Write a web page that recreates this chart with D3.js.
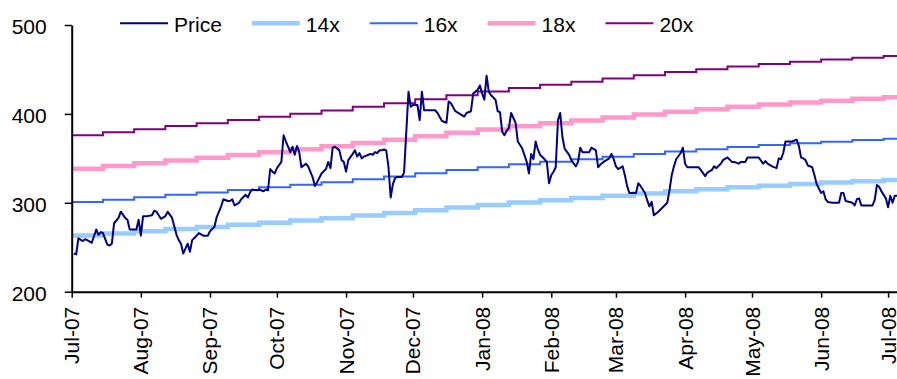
<!DOCTYPE html>
<html>
<head>
<meta charset="utf-8">
<script src="https://cdn.jsdelivr.net/npm/d3@7"></script>
<style>
  body { margin: 0; background: #fff; }
  svg { display: block; font-family: Arial, "Liberation Sans", sans-serif; }
</style>
</head>
<body>
<svg id="chart" width="897" height="379"></svg>
<script>
/* ============================
      Data
   ============================ */
// Daily share price, one line per month
const priceDates = [
    "2007-07-02","2007-07-03","2007-07-04","2007-07-06","2007-07-07","2007-07-08","2007-07-10","2007-07-12","2007-07-13","2007-07-14","2007-07-15","2007-07-17","2007-07-18","2007-07-19","2007-07-20","2007-07-22","2007-07-23","2007-07-25","2007-07-26","2007-07-27","2007-07-29","2007-07-30","2007-07-31",
    "2007-08-01","2007-08-02","2007-08-04","2007-08-06","2007-08-07","2007-08-08","2007-08-10","2007-08-12","2007-08-13","2007-08-15","2007-08-17","2007-08-18","2007-08-19","2007-08-20","2007-08-22","2007-08-23","2007-08-24","2007-08-26","2007-08-27","2007-08-29","2007-08-31",
    "2007-09-01","2007-09-03","2007-09-04","2007-09-06","2007-09-07","2007-09-09","2007-09-10","2007-09-11","2007-09-12","2007-09-14","2007-09-15","2007-09-17","2007-09-18","2007-09-19","2007-09-20","2007-09-22","2007-09-23","2007-09-25","2007-09-26","2007-09-27","2007-09-28","2007-09-29","2007-09-30",
    "2007-10-01","2007-10-03","2007-10-04","2007-10-05","2007-10-07","2007-10-08","2007-10-09","2007-10-10","2007-10-11","2007-10-12","2007-10-14","2007-10-15","2007-10-17","2007-10-18","2007-10-19","2007-10-21","2007-10-23","2007-10-24","2007-10-25","2007-10-26","2007-10-27","2007-10-29","2007-10-30","2007-10-31",
    "2007-11-01","2007-11-02","2007-11-04","2007-11-05","2007-11-06","2007-11-07","2007-11-08","2007-11-09","2007-11-11","2007-11-12","2007-11-13","2007-11-14","2007-11-15","2007-11-16","2007-11-17","2007-11-18","2007-11-19","2007-11-20","2007-11-21","2007-11-22","2007-11-23","2007-11-24","2007-11-26","2007-11-27","2007-11-29","2007-11-30",
    "2007-12-01","2007-12-03","2007-12-04","2007-12-05","2007-12-06","2007-12-07","2007-12-09","2007-12-11","2007-12-12","2007-12-14","2007-12-16","2007-12-17","2007-12-18","2007-12-20","2007-12-22","2007-12-24","2007-12-25","2007-12-27","2007-12-28","2007-12-30","2007-12-31",
    "2008-01-01","2008-01-02","2008-01-03","2008-01-04","2008-01-05","2008-01-07","2008-01-08","2008-01-09","2008-01-10","2008-01-11","2008-01-12","2008-01-13","2008-01-14","2008-01-16","2008-01-17","2008-01-18","2008-01-19","2008-01-21","2008-01-22","2008-01-23","2008-01-24","2008-01-25","2008-01-26","2008-01-27","2008-01-29","2008-01-30","2008-01-31",
    "2008-02-01","2008-02-02","2008-02-03","2008-02-04","2008-02-05","2008-02-06","2008-02-07","2008-02-09","2008-02-10","2008-02-12","2008-02-13","2008-02-14","2008-02-15","2008-02-16","2008-02-18","2008-02-19","2008-02-21","2008-02-22","2008-02-23","2008-02-25","2008-02-27","2008-02-28","2008-02-29",
    "2008-03-01","2008-03-02","2008-03-04","2008-03-05","2008-03-06","2008-03-07","2008-03-08","2008-03-09","2008-03-10","2008-03-11","2008-03-12","2008-03-14","2008-03-15","2008-03-16","2008-03-17","2008-03-18","2008-03-20","2008-03-22","2008-03-24","2008-03-25","2008-03-26","2008-03-27","2008-03-28","2008-03-30","2008-03-31",
    "2008-04-01","2008-04-02","2008-04-03","2008-04-05","2008-04-07","2008-04-08","2008-04-10","2008-04-11","2008-04-13","2008-04-14","2008-04-15","2008-04-17","2008-04-18","2008-04-20","2008-04-22","2008-04-23","2008-04-25","2008-04-26","2008-04-28","2008-04-29",
    "2008-05-01","2008-05-03","2008-05-04","2008-05-06","2008-05-07","2008-05-08","2008-05-10","2008-05-12","2008-05-13","2008-05-14","2008-05-15","2008-05-16","2008-05-17","2008-05-19","2008-05-21","2008-05-22","2008-05-23","2008-05-24","2008-05-25","2008-05-26","2008-05-28","2008-05-29","2008-05-30","2008-05-31",
    "2008-06-01","2008-06-02","2008-06-03","2008-06-04","2008-06-06","2008-06-09","2008-06-10","2008-06-11","2008-06-12","2008-06-15","2008-06-16","2008-06-17","2008-06-18","2008-06-19","2008-06-21","2008-06-24","2008-06-25","2008-06-26","2008-06-27","2008-06-28","2008-06-30",
    "2008-07-01","2008-07-02","2008-07-03","2008-07-04","2008-07-05"
];
const priceValues = [
    243,242,260,257,259,258,255,270,264,267,266,253,252,254,277,283,290,283,281,270,270,270,281,
    263,285,285,286,291,290,282,285,290,283,264,258,254,243,254,245,258,263,266,263,263,
    268,273,284,296,304,302,302,304,297,300,304,309,306,312,315,314,315,313,315,314,338,335,333,
    339,346,376,369,357,363,354,364,357,340,344,341,329,319,323,333,338,346,339,362,363,359,348,346,
    335,348,355,359,352,356,350,352,354,355,354,357,356,359,359,360,359,341,306,321,328,329,329,334,425,408,
    410,410,393,425,404,404,404,404,401,392,390,414,412,403,400,397,401,403,423,427,432,
    423,416,443,425,421,416,403,402,380,376,381,384,401,390,369,365,361,346,333,355,349,369,360,354,349,346,322,
    331,335,340,393,401,374,361,354,348,341,346,362,357,357,357,362,359,340,343,347,350,355,349,
    341,338,341,331,319,311,311,311,311,322,319,311,303,296,301,286,290,295,300,314,331,341,349,356,362,
    344,340,340,340,340,337,330,334,337,341,339,344,348,351,346,346,344,346,346,351,
    351,351,351,344,347,344,341,339,350,349,356,369,369,369,371,364,351,350,348,342,340,331,321,316,
    311,313,304,301,300,300,311,311,302,300,297,304,305,297,297,297,303,320,318,313,305,
    295,308,300,308,308
];

// P/E bands (stepped), sampled every two weeks
const bandDates = [
    "2007-07-01","2007-07-15","2007-07-29","2007-08-12","2007-08-26","2007-09-09","2007-09-23",
    "2007-10-07","2007-10-21","2007-11-04","2007-11-18","2007-12-02","2007-12-16","2007-12-30",
    "2008-01-13","2008-01-27","2008-02-10","2008-02-24","2008-03-09","2008-03-23","2008-04-06",
    "2008-04-20","2008-05-04","2008-05-18","2008-06-01","2008-06-15","2008-06-29","2008-07-05"
];
const pe14 = [263.2,265.6,268.0,270.4,272.7,275.2,277.7,280.2,282.7,285.6,288.4,291.6,294.7,297.5,
              300.4,302.9,305.4,307.9,310.5,313.0,315.2,317.4,319.3,321.2,322.7,324.3,325.6,326.2];
const pe16 = [300.8,303.5,306.3,309.0,311.6,314.5,317.4,320.2,323.1,326.4,329.6,333.2,336.8,340.0,
              343.3,346.2,349.0,351.9,354.8,357.7,360.2,362.7,364.9,367.0,368.8,370.6,372.1,372.8];
const pe18 = [338.4,341.5,344.6,347.6,350.6,353.8,357.0,360.3,363.5,367.2,370.8,374.9,378.9,382.5,
              386.2,389.4,392.7,395.9,399.2,402.4,405.2,408.1,410.5,412.9,414.9,417.0,418.6,419.4];
const pe20 = [376.0,379.4,382.8,386.3,389.5,393.1,396.7,400.3,403.9,408.0,412.0,416.5,421.0,425.1,
              429.1,432.7,436.3,439.9,443.5,447.1,450.3,453.4,456.1,458.8,461.1,463.3,465.1,466.0];

const yTicks = [200, 300, 400, 500];
const monthTicks = ["2007-07-01","2007-08-01","2007-09-01","2007-10-01","2007-11-01","2007-12-01","2008-01-01",
                    "2008-02-01","2008-03-01","2008-04-01","2008-05-01","2008-06-01","2008-07-01"];

/* ============================
      Chart
   ============================ */
const parse = d3.timeParse("%Y-%m-%d");
const svg = d3.select("#chart");

const x = d3.scaleTime()
    .domain([parse("2007-07-01"), parse("2008-07-05")])
    .range([71.7, 897]);
const y = d3.scaleLinear()
    .domain([200, 500])
    .range([291.7, 25]);

// series styling, drawn bands first so price sits on top
const bands = [
    {name: "14x", values: pe14, color: "#99CCFF", width: 4.5},
    {name: "16x", values: pe16, color: "#3366FF", width: 2},
    {name: "18x", values: pe18, color: "#FF99CC", width: 4.5},
    {name: "20x", values: pe20, color: "#800080", width: 2}
];
const price = {name: "Price", color: "#000080", width: 2};

const bandLine = d3.line()
    .curve(d3.curveStepAfter)
    .x(d => x(d.date))
    .y(d => y(d.value));

svg.append("g")
    .selectAll("path")
    .data(bands)
    .join("path")
    .attr("fill", "none")
    .attr("stroke", d => d.color)
    .attr("stroke-width", d => d.width)
    .attr("d", d => bandLine(bandDates.map((s, i) => ({date: parse(s), value: d.values[i]}))));

const priceLine = d3.line()
    .x(d => x(d.date))
    .y(d => y(d.value));

svg.append("path")
    .datum(priceDates.map((s, i) => ({date: parse(s), value: priceValues[i]})))
    .attr("fill", "none")
    .attr("stroke", price.color)
    .attr("stroke-width", price.width)
    .attr("stroke-linejoin", "round")
    .attr("d", priceLine);

// y axis
svg.append("g")
    .attr("transform", `translate(${x.range()[0]},0)`)
    .call(d3.axisLeft(y).tickValues(yTicks).tickSize(7).tickPadding(18).tickSizeOuter(0))
    .call(g => g.attr("font-family", null).attr("font-size", 21))
    .call(g => g.select(".domain").attr("stroke", "#000").attr("stroke-width", 2))
    .call(g => g.selectAll(".tick line").attr("stroke", "#000").attr("stroke-width", 1.5))
    .call(g => g.selectAll(".tick text").attr("fill", "#000").attr("dy", "0.42em"));

// x axis, rotated month labels
svg.append("g")
    .attr("transform", `translate(0,${y.range()[0]})`)
    .call(d3.axisBottom(x)
        .tickValues(monthTicks.map(parse))
        .tickFormat(d3.timeFormat("%b-%y"))
        .tickSize(6)
        .tickSizeOuter(0))
    .call(g => g.attr("font-family", null).attr("font-size", 21))
    .call(g => g.select(".domain").attr("stroke", "#000").attr("stroke-width", 2))
    .call(g => g.selectAll(".tick line").attr("stroke", "#000").attr("stroke-width", 1.5))
    .call(g => g.selectAll(".tick text")
        .attr("fill", "#000")
        .attr("transform", "rotate(-90)")
        .attr("text-anchor", "end")
        .attr("x", -15)
        .attr("y", 7)
        .attr("dy", null));

// legend across the top
const legendItems = [price, ...bands];
const legend = svg.append("g").attr("font-size", 21);
let lx = 120;
legendItems.forEach(d => {
    legend.append("line")
        .attr("x1", lx).attr("x2", lx + 48)
        .attr("y1", 23.3).attr("y2", 23.3)
        .attr("stroke", d.color)
        .attr("stroke-width", d.width);
    const t = legend.append("text")
        .attr("x", lx + 54)
        .attr("y", 23.3)
        .attr("dy", "0.42em")
        .attr("fill", "#000")
        .text(d.name);
    lx += 54 + t.node().getComputedTextLength() + 30;
});
</script>
</body>
</html>
